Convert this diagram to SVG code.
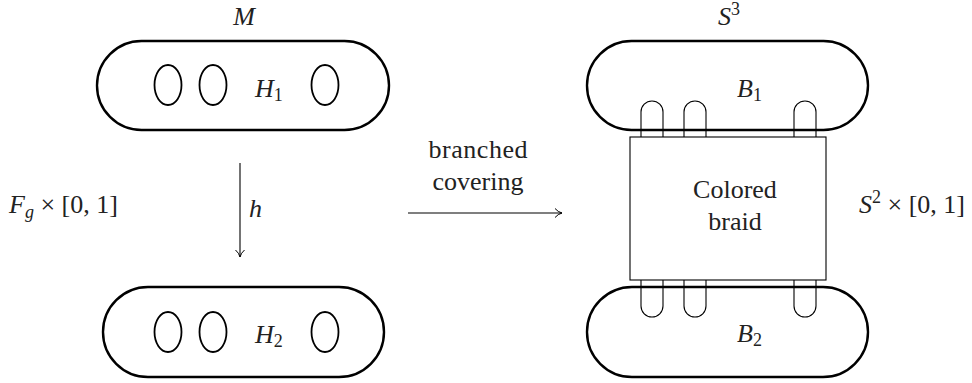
<svg xmlns="http://www.w3.org/2000/svg" width="972" height="383" viewBox="0 0 972 383">
<defs>
<marker id="arr" markerWidth="12" markerHeight="12" refX="9" refY="6" orient="auto" markerUnits="userSpaceOnUse">
<path d="M2,1.5 Q5,5 9,6 Q5,7 2,10.5" fill="none" stroke="#000" stroke-width="1"/>
</marker>
</defs>
<style>
.cap{fill:none;stroke:#000;stroke-width:2.4}
.hole{fill:none;stroke:#000;stroke-width:1.8}
.thin{fill:none;stroke:#000;stroke-width:1.1}
text{font-family:'Liberation Serif',serif;fill:#222}
.rm{font-size:26px;font-style:normal}
.it{font-size:26px;font-style:italic}
.subi{font-size:18px;font-style:italic}
.subr{font-size:18px;font-style:normal}
.r{font-style:normal}
</style>
<g id="M-top">
<rect class="cap" x="97" y="41" width="292" height="89" rx="44.5"/>
<ellipse class="hole" cx="168" cy="85" rx="13.5" ry="20"/>
<ellipse class="hole" cx="213" cy="85" rx="13.5" ry="20"/>
<ellipse class="hole" cx="325" cy="85" rx="13.5" ry="20"/>
<text class="it" x="255" y="97">H<tspan class="subr" dy="4">1</tspan></text>
<text class="it" x="244" y="25" text-anchor="middle">M</text>
</g>
<g id="M-bottom">
<rect class="cap" x="103" y="287" width="281" height="90" rx="45"/>
<ellipse class="hole" cx="168" cy="332" rx="13.5" ry="20"/>
<ellipse class="hole" cx="213" cy="332" rx="13.5" ry="20"/>
<ellipse class="hole" cx="325" cy="332" rx="13.5" ry="20"/>
<text class="it" x="255" y="343">H<tspan class="subr" dy="4">2</tspan></text>
</g>
<g id="Fg-label">
<text class="it" x="9" y="213">F<tspan class="subi" dy="5">g</tspan><tspan class="r" dy="-5" font-size="26"> × [0, 1]</tspan></text>
</g>
<g id="S3-top">
<rect class="cap" x="587" y="41" width="281" height="89" rx="44.5"/>
<text class="it" x="718" y="25">S<tspan class="subr" dy="-10">3</tspan></text>
<text class="it" x="737" y="97">B<tspan class="subr" dy="4">1</tspan></text>
<path class="thin" d="M641,137 V112 A11,11 0 0 1 663,112 V137 M684,137 V112 A11,11 0 0 1 706,112 V137 M794,137 V112 A11,11 0 0 1 816,112 V137"/>
</g>
<g id="braid-box">
<rect class="thin" x="630" y="137" width="196" height="143"/>
<text class="rm" x="735" y="198" text-anchor="middle">Colored</text>
<text class="rm" x="735" y="230" text-anchor="middle">braid</text>
</g>
<g id="S3-bottom">
<rect class="cap" x="587" y="287" width="281" height="90" rx="45"/>
<text class="it" x="737" y="342">B<tspan class="subr" dy="4">2</tspan></text>
<path class="thin" d="M641,280 V306 A11,11 0 0 0 663,306 V280 M684,280 V306 A11,11 0 0 0 706,306 V280 M794,280 V306 A11,11 0 0 0 816,306 V280"/>
</g>
<g id="S2-label">
<text class="it" x="859" y="213">S<tspan class="subr" dy="-10">2</tspan><tspan class="r" dy="10"> × [0, 1]</tspan></text>
</g>
<g id="connectors">
<line x1="240" y1="163" x2="240" y2="257" stroke="#000" stroke-width="1.1" marker-end="url(#arr)"/>
<text class="it" x="249" y="217">h</text>
<line x1="408" y1="213" x2="562" y2="213" stroke="#000" stroke-width="1.1" marker-end="url(#arr)"/>
<text class="rm" x="478" y="158" text-anchor="middle" textLength="99">branched</text>
<text class="rm" x="478" y="190" text-anchor="middle">covering</text>
</g>
</svg>
